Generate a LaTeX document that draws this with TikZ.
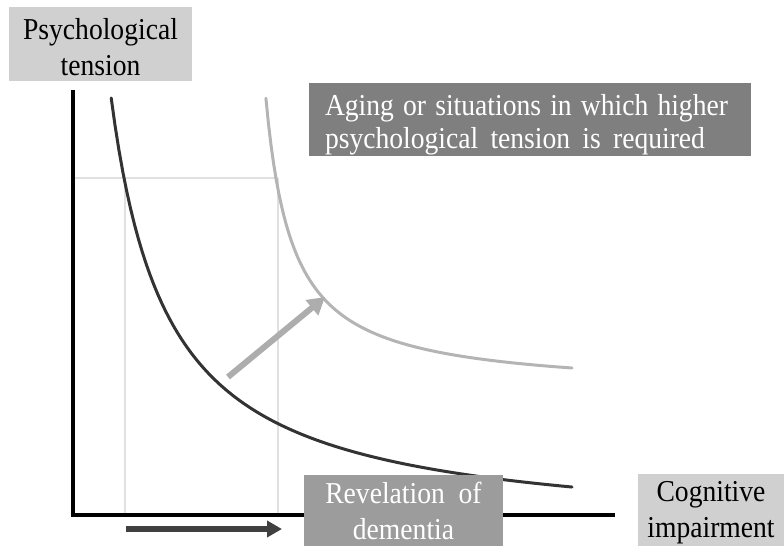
\documentclass[tikz,border=0pt]{standalone}
\usepackage{graphicx}
\usepackage{fontspec}
\setmainfont{Liberation Serif}
\usetikzlibrary{arrows.meta}
\definecolor{lightbox}{HTML}{D0D0D0}
\definecolor{darkbox}{HTML}{7F7F7F}
\definecolor{midbox}{HTML}{9C9C9C}
\definecolor{guide}{HTML}{E0E0E0}
\definecolor{curveA}{HTML}{333333}
\definecolor{curveB}{HTML}{B4B4B4}
\definecolor{arrowB}{HTML}{ADADAD}
\definecolor{arrowA}{HTML}{404040}
% width, height, first-line strut, text  (all heights divided by the 1.1 vertical stretch)
\newcommand\boxtext[4]{\scalebox{1}[1.1]{\parbox[c][#2][t]{#1}{\centering\rule{0pt}{#3}#4}}}
\begin{document}
\begin{tikzpicture}[x=1pt,y=-1pt,
  labelbox/.style={inner sep=0pt, outer sep=0pt, font=\fontsize{27.6}{33.2}\selectfont},
  axisline/.style={line width=3.5pt, black, line join=miter},
  guideline/.style={line width=2.5pt, guide},
  curvedark/.style={line width=3pt, curveA, line cap=round},
  curvelight/.style={line width=3pt, curveB, line cap=round},
  shiftarrow/.style={line width=6pt, arrowB, -{Triangle[length=17pt,width=19pt]}},
  growarrow/.style={line width=6pt, arrowA, -{Triangle[length=15pt,width=16pt]}}
]
\useasboundingbox (0,0) rectangle (784,546);

% guide lines
\coordinate (gh0) at (73,178);
\coordinate (gA) at (125,178);
\coordinate (gB) at (278,178);
\coordinate (gA0) at (125,514);
\coordinate (gB0) at (278,514);
\draw[guideline] (gh0) -- (gB);
\draw[guideline] (gA) -- (gA0);
\draw[guideline] (gB) -- (gB0);

% axes
\coordinate (ytop) at (73,90);
\coordinate (origin) at (73,515);
\coordinate (xend) at (615,515);
\draw[axisline] (ytop) -- (origin) -- (xend);

% curves
\draw[curvedark, domain=111.2:572, samples=120] plot (\x, {535.3 - 250/((\x-54)*0.01)});
\draw[curvelight, domain=265.9:572, samples=120] plot (\x, {391.7 - 78.9/((\x-239)*0.01)});

% arrows
\coordinate (sa) at (228,377);
\coordinate (sb) at (325,297);
\draw[shiftarrow] (sa) -- (sb);
\coordinate (ga) at (126,529);
\coordinate (gb) at (282,529);
\draw[growarrow] (ga) -- (gb);

% boxes
\node[labelbox, fill=lightbox, text=black] (psy) at (100.5,44)
  {\boxtext{183pt}{67.27pt}{29.09pt}{Psychological\\tension}};
\node[labelbox, fill=darkbox, text=white] (aging) at (530,119.5)
  {\scalebox{1}[1.1]{\parbox[c][66.36pt][t]{442pt}{\baselineskip=30pt\hspace*{16pt}\rule{0pt}{29.09pt}\makebox[403pt][s]{Aging or situations in which higher}\\\hspace*{16pt}\makebox[380pt][s]{psychological tension is required}}}};
\node[labelbox, fill=midbox, text=white] (reveal) at (403.5,510.5)
  {\boxtext{199pt}{64.55pt}{25.45pt}{Revelation\ \ of\\dementia}};
\node[labelbox, fill=lightbox, text=black] (cog) at (711,510)
  {\boxtext{146pt}{65.45pt}{24.55pt}{Cognitive\\impairment}};
\end{tikzpicture}
\end{document}
